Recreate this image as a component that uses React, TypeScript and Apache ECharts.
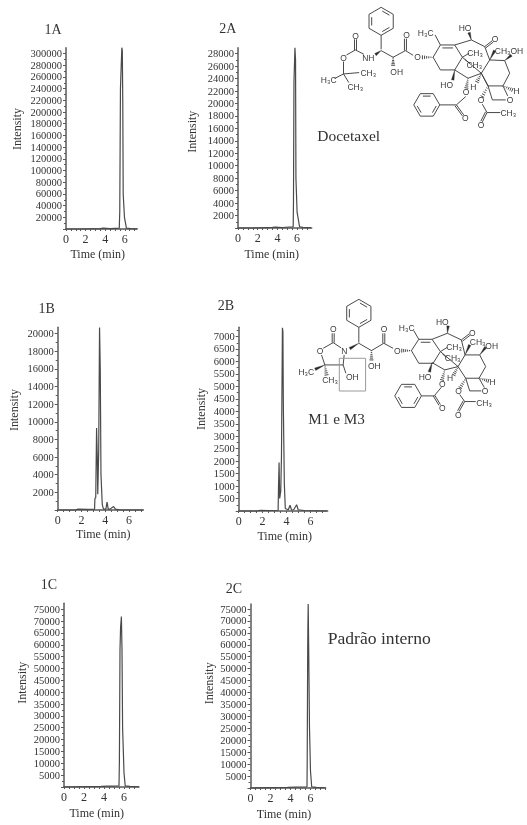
import React, { useEffect, useRef } from "react";
import * as echarts from "echarts";

// ---------- chromatogram data (time in min, intensity in counts) ----------
const time1A = [0, 1.5, 3.5, 3.8, 4.5, 5.44, 5.49, 5.56, 5.7, 5.75, 5.8, 5.84, 5.97, 6.17, 6.6, 7.3];
const int1A = [0, 0, 800, 1500, 800, 1500, 30000, 240000, 310000, 305000, 210000, 60000, 20000, 1500, 800, 300];
const time2A = [0, 1.5, 3.5, 3.8, 4.5, 5.6, 5.63, 5.68, 5.78, 5.84, 5.88, 6.0, 6.25, 6.6, 7.4];
const int2A = [0, 0, 100, 150, 80, 200, 4000, 23500, 28960, 27000, 8000, 2500, 200, 100, 50];
const time1B = [0, 1.5, 1.7, 2.5, 3.1, 3.13, 3.2, 3.27, 3.33, 3.37, 3.45, 3.52, 3.58, 3.64, 3.75, 3.85, 4.05, 4.15, 4.25, 4.4, 4.7, 4.85, 5.3, 7.2];
const int1B = [0, 0, 100, 60, 100, 1300, 1400, 9300, 6000, 1800, 6800, 20700, 16000, 4000, 600, 100, 100, 900, 100, 100, 400, 100, 0, 0];
const time2B = [0, 1.5, 1.8, 2.5, 3.3, 3.33, 3.38, 3.43, 3.52, 3.58, 3.66, 3.7, 3.74, 3.82, 3.9, 4.15, 4.3, 4.42, 4.6, 4.85, 4.98, 5.5, 7.4];
const int2B = [0, 0, 30, 20, 30, 900, 1950, 500, 800, 2200, 7350, 7200, 4100, 1100, 100, 50, 230, 40, 50, 250, 50, 20, 0];
const time1C = [0, 3.7, 4.5, 5.5, 5.54, 5.6, 5.66, 5.74, 5.8, 5.86, 6.0, 6.12, 6.6, 7.5];
const int1C = [0, 300, 400, 500, 11000, 58000, 67500, 71900, 58000, 25000, 6000, 500, 300, 100];
const time2C = [0, 3.7, 4.5, 5.65, 5.67, 5.72, 5.74, 5.77, 5.82, 5.9, 6.0, 6.12, 6.6, 7.5];
const int2C = [0, 300, 400, 500, 11000, 58000, 67500, 77100, 58000, 25000, 7000, 500, 300, 100];

// ---------- tick labels ----------
const timeLabels = [0, 2, 4, 6];
const ticks1A = [20000, 40000, 60000, 80000, 100000, 120000, 140000, 160000, 180000, 200000, 220000, 240000, 260000, 280000, 300000];
const ticks2A = [2000, 4000, 6000, 8000, 10000, 12000, 14000, 16000, 18000, 20000, 22000, 24000, 26000, 28000];
const ticks1B = [2000, 4000, 6000, 8000, 10000, 12000, 14000, 16000, 18000, 20000];
const ticks2B = [500, 1000, 1500, 2000, 2500, 3000, 3500, 4000, 4500, 5000, 5500, 6000, 6500, 7000];
const ticks1C = [5000, 10000, 15000, 20000, 25000, 30000, 35000, 40000, 45000, 50000, 55000, 60000, 65000, 70000, 75000];
const ticks2C = ticks1C;

// ---------- panel layout ----------
const panels = [
  { name: "1A", time: time1A, values: int1A, ticks: ticks1A, step: 20000, left: 66, right: 137, top: 47.7, bottom: 229, xMax: 7.25, yMax: 310000, title: [53, 29], yName: [16, 129], xName: [97.7, 254] },
  { name: "2A", time: time2A, values: int2A, ticks: ticks2A, step: 2000, left: 238, right: 311.7, top: 47.7, bottom: 228, xMax: 7.48, yMax: 28960, title: [227.7, 28], yName: [191, 131.7], xName: [271.7, 254] },
  { name: "1B", time: time1B, values: int1B, ticks: ticks1B, step: 2000, left: 57.7, right: 143.3, top: 327.3, bottom: 510, xMax: 7.2, yMax: 20730, title: [46.7, 308.7], yName: [13.3, 410], xName: [103.3, 534.3] },
  { name: "2B", time: time2B, values: int2B, ticks: ticks2B, step: 500, left: 238.7, right: 327.7, top: 327.3, bottom: 511, xMax: 7.45, yMax: 7370, title: [226, 305.7], yName: [200, 409], xName: [284.7, 535.7] },
  { name: "1C", time: time1C, values: int1C, ticks: ticks1C, step: 5000, left: 64, right: 139, top: 603.3, bottom: 787, xMax: 7.5, yMax: 77500, title: [49, 584.7], yName: [21.3, 682.7], xName: [96.7, 813] },
  { name: "2C", time: time2C, values: int2C, ticks: ticks2C, step: 5000, left: 250.5, right: 325.7, top: 604, bottom: 788, xMax: 7.52, yMax: 77100, title: [234, 588.3], yName: [208.3, 683.3], xName: [284, 814] },
];

const SERIF = '"Liberation Serif", "Times New Roman", serif';
const SANS = '"Liberation Sans", Arial, sans-serif';
const INK = "#3c3c3c";

// ---------- structure drawing helpers ----------
type P = number[];
const seg = (a: P, b: P) => `M${a[0]} ${a[1]}L${b[0]} ${b[1]}`;
const chain = (...pts: P[]) => pts.map((p, i) => `${i ? "L" : "M"}${p[0]} ${p[1]}`).join("");
const closed = (...pts: P[]) => chain(...pts) + "Z";
const dbl = (a: P, b: P, off = 6) => {
  const dx = b[0] - a[0], dy = b[1] - a[1], l = Math.hypot(dx, dy);
  const nx = (-dy / l) * off, ny = (dx / l) * off;
  return seg(a, b) + seg([a[0] + nx, a[1] + ny], [b[0] + nx, b[1] + ny]);
};
const wedge = (a: P, b: P, w = 4) => {
  const dx = b[0] - a[0], dy = b[1] - a[1], l = Math.hypot(dx, dy);
  const nx = (-dy / l) * w, ny = (dx / l) * w;
  return closed(a, [b[0] + nx, b[1] + ny], [b[0] - nx, b[1] - ny]);
};
const hash = (a: P, b: P, n = 5, w = 5) => {
  const dx = b[0] - a[0], dy = b[1] - a[1], l = Math.hypot(dx, dy);
  const ux = -dy / l, uy = dx / l;
  let d = "";
  for (let i = 0; i <= n; i++) {
    const f = i / n, x = a[0] + dx * f, y = a[1] + dy * f, h = 1 + w * f;
    d += seg([x + ux * h, y + uy * h], [x - ux * h, y - uy * h]);
  }
  return d;
};
const benzene = (cx: number, cy: number, r: number, startDeg: number) => {
  const v: P[] = [];
  const iv: P[] = [];
  for (let i = 0; i < 6; i++) {
    const t = ((startDeg + i * 60) * Math.PI) / 180;
    v.push([cx + r * Math.cos(t), cy + r * Math.sin(t)]);
    iv.push([cx + r * 0.78 * Math.cos(t), cy + r * 0.78 * Math.sin(t)]);
  }
  let d = closed(...v);
  for (let i = 0; i < 6; i += 2) {
    const a = iv[i], b = iv[(i + 1) % 6];
    d += seg([a[0] + (b[0] - a[0]) * 0.12, a[1] + (b[1] - a[1]) * 0.12], [b[0] - (b[0] - a[0]) * 0.12, b[1] - (b[1] - a[1]) * 0.12]);
  }
  return d;
};

// Docetaxel bonds (drawn in a 3x local space)
const docLines = [
  benzene(604, 64, 42, 30),
  seg([604, 106], [604, 148]),
  seg([604, 152], [640, 172]),
  seg([640, 172], [677, 152]),
  dbl([674, 152], [674, 116], 6),
  seg([677, 152], [700, 166]),
  seg([552, 163], [527, 150]),
  dbl([524, 150], [524, 118], 6),
  seg([527, 150], [500, 165]),
  seg([491, 185], [491, 222]),
  seg([491, 222], [538, 218]),
  seg([491, 222], [464, 236]),
  seg([491, 222], [507, 248]),
  closed([760, 172], [782, 135], [825, 135], [848, 172], [825, 210], [782, 210]),
  seg([788, 144], [820, 144]),
  seg([782, 135], [766, 105]),
  chain([825, 135], [875, 120], [915, 140], [930, 180]),
  dbl([915, 140], [938, 122], 5),
  seg([848, 172], [905, 220]),
  seg([848, 172], [868, 160]),
  seg([855, 178], [870, 190]),
  chain([825, 210], [865, 235], [905, 220]),
  closed([930, 180], [975, 182], [990, 220], [970, 258], [925, 258], [905, 220]),
  seg([970, 258], [984, 288]),
  chain([925, 258], [938, 300], [978, 300]),
  seg([905, 220], [925, 258]),
  seg([858, 290], [830, 315]),
  dbl([830, 315], [852, 345], 5),
  seg([830, 315], [780, 315]),
  benzene(741, 315, 39, 0),
  seg([908, 313], [922, 338]),
  dbl([922, 338], [908, 366], 5),
  seg([922, 338], [962, 338]),
];
const docSolid = [
  wedge([604, 152], [587, 164], 4),
  wedge([930, 180], [945, 152], 4),
  wedge([975, 182], [995, 166], 4),
  wedge([825, 210], [819, 240], 4),
  wedge([875, 120], [868, 98], 4),
];
const docHashed = [
  hash([640, 172], [640, 196]),
  hash([760, 172], [728, 172]),
  hash([865, 235], [860, 264]),
  hash([925, 258], [908, 290]),
  hash([970, 258], [998, 270]),
  hash([905, 220], [892, 246]),
];
const docTexts: [string, number, number][] = [
  ["O", 527, 107], ["O", 680, 106], ["O", 491, 173], ["NH", 565, 173], ["O", 713, 172],
  ["OH", 650, 216], ["CH₃", 565, 218], ["H₃C", 446, 240], ["CH₃", 526, 262],
  ["H₃C", 737, 99], ["HO", 855, 83], ["O", 945, 117], ["CH₃", 885, 160], ["CH₃", 883, 195],
  ["CH₃OH", 987, 152], ["HO", 800, 255], ["H", 880, 261], ["O", 858, 277], ["H", 1010, 272],
  ["O", 990, 300], ["O", 903, 300], ["O", 856, 355], ["O", 903, 375], ["CH₃", 985, 340],
];

// M1 / M3 bonds (drawn in a 3x local space)
const metLines = [
  benzene(537, 70, 42, 30),
  seg([537, 112], [537, 158]),
  seg([537, 160], [575, 182]),
  seg([575, 182], [612, 160]),
  dbl([609, 160], [609, 130], 6),
  seg([612, 160], [640, 175]),
  closed([695, 182], [717, 148], [757, 148], [782, 185], [760, 220], [717, 220]),
  seg([723, 157], [752, 157]),
  seg([717, 148], [702, 122]),
  chain([757, 148], [803, 130], [845, 150], [856, 195]),
  dbl([845, 150], [868, 132], 5),
  seg([782, 185], [835, 230]),
  seg([782, 185], [803, 172]),
  seg([788, 192], [800, 202]),
  chain([757, 218], [795, 240], [835, 230]),
  closed([856, 195], [900, 195], [918, 230], [898, 265], [858, 265], [835, 230]),
  chain([858, 265], [870, 303], [905, 303]),
  seg([898, 265], [914, 293]),
  seg([785, 292], [765, 316]),
  dbl([765, 316], [782, 344], 5),
  seg([765, 318], [725, 318]),
  benzene(685, 318, 40, 0),
  seg([840, 314], [855, 335]),
  dbl([855, 335], [838, 365], 5),
  seg([855, 335], [888, 335]),
  seg([460, 158], [430, 175]),
  seg([460, 158], [484, 174]),
  dbl([457, 158], [457, 130], 6),
  seg([425, 195], [435, 225]),
  seg([435, 225], [490, 225]),
  seg([490, 225], [493, 195]),
  seg([490, 225], [498, 250]),
];
const metSolid = [
  wedge([537, 160], [510, 176], 4),
  wedge([435, 225], [406, 238], 4),
  wedge([803, 130], [805, 108], 4),
  wedge([757, 218], [749, 246], 4),
  wedge([856, 195], [870, 165], 4),
  wedge([900, 195], [918, 172], 4),
];
const metHashed = [
  hash([575, 182], [575, 210]),
  hash([695, 182], [666, 182]),
  hash([435, 225], [440, 255]),
  hash([795, 240], [787, 270]),
  hash([858, 265], [842, 293]),
  hash([898, 265], [926, 273]),
  hash([835, 230], [822, 255]),
];
const metTexts: [string, number, number][] = [
  ["O", 460, 117], ["O", 420, 183], ["N", 493, 183], ["O", 612, 117], ["OH", 583, 227], ["O", 652, 182],
  ["H₃C", 379, 247], ["CH₃", 450, 270], ["OH", 517, 262], ["H₃C", 680, 113], ["HO", 787, 97], ["O", 877, 130],
  ["CH₃", 822, 170], ["CH₃", 818, 203], ["CH₃", 893, 155], ["OH", 935, 167], ["HO", 735, 260], ["H", 810, 265],
  ["O", 787, 283], ["H", 938, 275], ["O", 915, 303], ["O", 836, 303], ["O", 787, 355], ["O", 835, 375], ["CH₃", 912, 340],
];

echarts.graphic.registerShape("docLines", echarts.graphic.extendPath(docLines.join("") + docHashed.join(""), {}));
echarts.graphic.registerShape("docSolid", echarts.graphic.extendPath(docSolid.join(""), {}));
echarts.graphic.registerShape("metLines", echarts.graphic.extendPath(metLines.join("") + metHashed.join(""), {}));
echarts.graphic.registerShape("metSolid", echarts.graphic.extendPath(metSolid.join(""), {}));

function structure(lines: string, solid: string, texts: [string, number, number][], ox: number, oy: number): any[] {
  const s = 1 / 3;
  return [
    { type: lines, x: ox, y: oy, scaleX: s, scaleY: s, silent: true, style: { fill: "none", stroke: INK, lineWidth: 2.8 } },
    { type: solid, x: ox, y: oy, scaleX: s, scaleY: s, silent: true, style: { fill: "#2c2c2c", stroke: "#2c2c2c", lineWidth: 1 } },
    ...texts.map(([text, x, y]) => ({
      type: "text",
      x: ox + x * s,
      y: oy + y * s,
      silent: true,
      style: { text, fill: INK, font: `8.5px ${SANS}`, align: "center", verticalAlign: "middle" },
    })),
  ];
}

const serifText = (text: string, x: number, y: number, size: number, align = "center") => ({
  type: "text",
  x,
  y,
  silent: true,
  style: { text, fill: "#333", font: `${size}px ${SERIF}`, align, verticalAlign: "middle" },
});

export default function App() {
  const ref = useRef<HTMLDivElement>(null);
  useEffect(() => {
    const chart = echarts.init(ref.current!, undefined, { renderer: "svg" });
    const axisLine = { show: true, onZero: false, lineStyle: { color: "#5a5a5a", width: 1.5 } };
    const option: any = {
      animation: false,
      backgroundColor: "#fff",
      grid: panels.map((p) => ({ left: p.left, top: p.top, width: p.right - p.left, height: p.bottom - p.top, containLabel: false })),
      xAxis: panels.map((p, i) => {
        const shift = p.xName[0] - (p.left + p.right) / 2;
        return {
          gridIndex: i,
          type: "value",
          min: 0,
          max: p.xMax,
          interval: 2,
          name: "Time (min)",
          nameLocation: "middle",
          nameGap: p.xName[1] - p.bottom - 6,
          nameTextStyle: {
            color: "#333", fontFamily: SERIF, fontSize: 12,
            padding: shift < 0 ? [0, -2 * shift, 0, 0] : [0, 0, 0, 2 * shift],
          },
          axisLine,
          axisTick: { show: true, length: 2, lineStyle: { color: "#5a5a5a" }, customValues: timeLabels },
          minorTick: { show: true, splitNumber: 4, length: 2, lineStyle: { color: "#5a5a5a" } },
          axisLabel: { customValues: timeLabels, formatter: (v: number) => String(v), color: "#333", fontFamily: SERIF, fontSize: 12, margin: 4 },
          splitLine: { show: false },
        };
      }),
      yAxis: panels.map((p, i) => {
        const shift = p.yName[1] - (p.top + p.bottom) / 2;
        return {
          gridIndex: i,
          type: "value",
          min: 0,
          max: p.yMax,
          interval: p.step,
          name: "Intensity",
          nameLocation: "middle",
          nameRotate: 90,
          nameGap: p.left - p.yName[0] - 7,
          nameTextStyle: {
            color: "#333", fontFamily: SERIF, fontSize: 12,
            padding: shift < 0 ? [0, 0, 0, -2 * shift] : [0, 2 * shift, 0, 0],
          },
          axisLine,
          axisTick: { show: true, length: 3, lineStyle: { color: "#5a5a5a" }, customValues: [0, ...p.ticks] },
          minorTick: { show: true, splitNumber: 2, length: 2, lineStyle: { color: "#5a5a5a" } },
          axisLabel: { customValues: p.ticks, formatter: (v: number) => String(v), color: "#333", fontFamily: SERIF, fontSize: 10.5, margin: 4 },
          splitLine: { show: false },
        };
      }),
      series: panels.map((p, i) => ({
        type: "line",
        name: p.name,
        xAxisIndex: i,
        yAxisIndex: i,
        symbol: "none",
        clip: false,
        smooth: false,
        lineStyle: { color: "#4a4a4a", width: 1.2 },
        data: p.time.map((t, j) => [t, p.values[j]]),
      })),
      graphic: {
        elements: [
          ...panels.map((p) => serifText(p.name, p.title[0], p.title[1], 14)),
          serifText("Docetaxel", 317.3, 135.3, 15.5, "left"),
          serifText("M1 e M3", 308.3, 418.7, 15.2, "left"),
          serifText("Padrão interno", 327.7, 638.3, 17.6, "left"),
          ...structure("docLines", "docSolid", docTexts, 180, 0),
          ...structure("metLines", "metSolid", metTexts, 180, 290),
          { type: "rect", silent: true, shape: { x: 339.3, y: 358.3, width: 26.3, height: 32.7 }, style: { fill: "none", stroke: "#9a9a9a", lineWidth: 1 } },
        ],
      },
    };
    chart.setOption(option);
    return () => chart.dispose();
  }, []);
  return <div ref={ref} style={{ position: "absolute", left: 0, top: 0, width: 527, height: 825, filter: "blur(0.35px)" }} />;
}
